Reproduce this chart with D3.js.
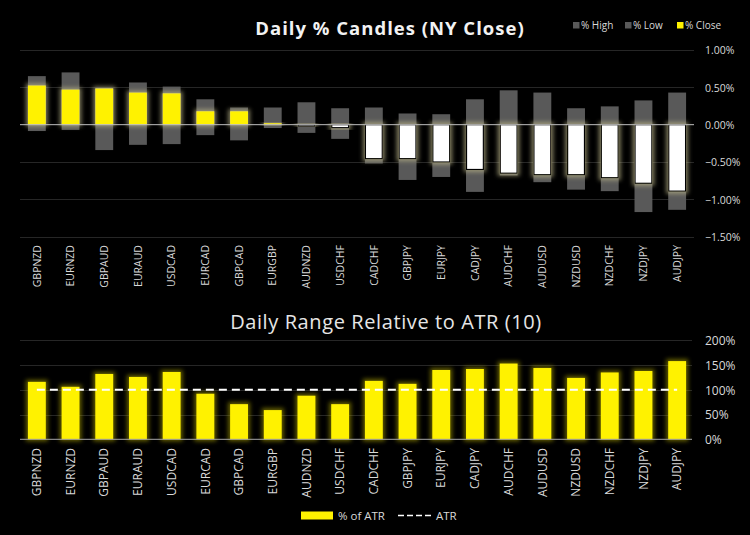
<!DOCTYPE html>
<html><head><meta charset="utf-8">
<script src="https://cdn.jsdelivr.net/npm/d3@7"></script>
<style>body{margin:0;background:#000;}svg{display:block;}</style>
</head><body>
<svg id="c" width="750" height="535"></svg>
<script>
const pairs = ["GBPNZD","EURNZD","GBPAUD","EURAUD","USDCAD","EURCAD","GBPCAD","EURGBP","AUDNZD","USDCHF","CADCHF","GBPJPY","EURJPY","CADJPY","AUDCHF","AUDUSD","NZDUSD","NZDCHF","NZDJPY","AUDJPY"];
const pctHigh  = [0.65,0.70,0.49,0.565,0.51,0.34,0.23,0.23,0.30,0.22,0.23,0.15,0.14,0.34,0.46,0.43,0.22,0.245,0.325,0.43];
const pctLow   = [-0.085,-0.07,-0.34,-0.27,-0.26,-0.14,-0.21,-0.045,-0.11,-0.19,-0.52,-0.74,-0.70,-0.90,-0.68,-0.77,-0.87,-0.89,-1.17,-1.14];
const pctClose = [0.525,0.47,0.485,0.43,0.42,0.18,0.18,0.02,-0.015,-0.04,-0.455,-0.455,-0.50,-0.60,-0.65,-0.67,-0.67,-0.71,-0.785,-0.89];
const atrPct   = [116,106,132,126,136,92,71,59,88,71,118,112,140,142,153,144,124,135,138,158];
const topTicks = [1.0,0.5,0,-0.5,-1.0,-1.5];
const botTicks = [200,150,100,50,0];

const svg = d3.select("#c");
const FONT = "'Open Sans', sans-serif";
const YEL = "#fff200", GREY = "#595959", TXT = "#d9d9d9", GRID = "#262626";

const defs = svg.append("defs");
function glow(id, color, r, sd, op){
  const f = defs.append("filter").attr("id", id).attr("x","-50%").attr("y","-50%").attr("width","200%").attr("height","200%");
  f.append("feMorphology").attr("in","SourceAlpha").attr("operator","dilate").attr("radius", r).attr("result","d");
  f.append("feGaussianBlur").attr("in","d").attr("stdDeviation", sd).attr("result","b");
  f.append("feFlood").attr("flood-color", color).attr("flood-opacity", op);
  f.append("feComposite").attr("in2","b").attr("operator","in").attr("result","g");
  const m = f.append("feMerge");
  m.append("feMergeNode").attr("in","g");
  m.append("feMergeNode").attr("in","SourceGraphic");
}
glow("gTop", "#bdb78a", 1.5, 2, 0.65);
glow("gBot", "#a89e00", 1.5, 2.2, 0.6);

const x = d3.scaleBand().domain(pairs).range([20, 694]).paddingInner(0.47).paddingOuter(0.235);

// ---------- TOP CHART ----------
const yT = d3.scaleLinear().domain([-1.5, 1.0]).range([236.7, 50]);
const gT = svg.append("g");
gT.selectAll("line.grid").data(topTicks.filter(d=>d!==0)).join("line")
  .attr("x1",20).attr("x2",694).attr("y1",d=>Math.round(yT(d))+0.5).attr("y2",d=>Math.round(yT(d))+0.5)
  .attr("stroke",GRID).attr("stroke-width",1);
const yAxT = d3.axisRight(yT).tickValues(topTicks).tickSize(0).tickPadding(0)
  .tickFormat(d=>d3.format(".2f")(d)+"%");
gT.append("g").attr("transform","translate(705,0)").call(yAxT)
  .call(g=>g.select(".domain").remove())
  .selectAll("text").attr("fill",TXT).attr("font-family",FONT).attr("font-size",10.5).attr("dy","0.35em");

// high & low bars
gT.selectAll("rect.hi").data(pairs).join("rect")
  .attr("x",d=>x(d)).attr("width",x.bandwidth())
  .attr("y",(d,i)=>yT(pctHigh[i])).attr("height",(d,i)=>yT(0)-yT(pctHigh[i]))
  .attr("fill",GREY);
gT.selectAll("rect.lo").data(pairs).join("rect")
  .attr("x",d=>x(d)).attr("width",x.bandwidth())
  .attr("y",yT(0)).attr("height",(d,i)=>yT(pctLow[i])-yT(0))
  .attr("fill",GREY);
// close bars
gT.selectAll("rect.cl").data(pairs).join("rect")
  .attr("filter","url(#gTop)")
  .attr("x",(d,i)=>pctClose[i]>=0 ? x(d) : x(d)+0.5)
  .attr("width",(d,i)=>pctClose[i]>=0 ? x.bandwidth() : x.bandwidth()-1)
  .attr("y",(d,i)=>pctClose[i]>=0 ? yT(pctClose[i]) : yT(0))
  .attr("height",(d,i)=>Math.max(1.5, Math.abs(yT(pctClose[i])-yT(0))))
  .attr("fill",(d,i)=>pctClose[i]>=0 ? YEL : "#ffffff")
  .attr("stroke",(d,i)=>pctClose[i]>=0 ? "none" : "#000")
  .attr("stroke-width",1.2);
// zero line
gT.append("line").attr("x1",20).attr("x2",694).attr("y1",yT(0)).attr("y2",yT(0))
  .attr("stroke","#bfbfbf").attr("stroke-width",1);

// x labels top
const xAxT = d3.axisBottom(x).tickSize(0).tickPadding(0);
gT.append("g").attr("transform","translate(0,245)").call(xAxT)
  .call(g=>g.select(".domain").remove())
  .selectAll("text").attr("fill",TXT).attr("font-family",FONT).attr("font-size",10.5)
  .attr("transform","rotate(-90)").attr("text-anchor","end").attr("x",0).attr("y",0).attr("dy","0.35em");

// title
svg.append("text").attr("x",390).attr("y",35).attr("text-anchor","middle")
  .attr("fill","#f2f2f2").attr("font-family",FONT).attr("font-weight","bold").attr("font-size",18.5)
  .attr("letter-spacing","1px").text("Daily % Candles (NY Close)");

// top legend
const legT = [{t:"% High",c:GREY,x:573},{t:"% Low",c:GREY,x:625},{t:"% Close",c:YEL,x:677}];
const lg = svg.append("g").selectAll("g").data(legT).join("g");
lg.append("rect").attr("x",d=>d.x).attr("y",22).attr("width",6.5).attr("height",6.5).attr("fill",d=>d.c);
lg.append("text").attr("x",d=>d.x+8).attr("y",25.3).attr("dy","0.35em").attr("fill",TXT)
  .attr("font-family",FONT).attr("font-size",10).text(d=>d.t);

// ---------- BOTTOM CHART ----------
const yB = d3.scaleLinear().domain([0,200]).range([439.3, 340.3]);
const gB = svg.append("g");
gB.selectAll("line.grid").data(botTicks.filter(d=>d!==0)).join("line")
  .attr("x1",20).attr("x2",692).attr("y1",d=>Math.round(yB(d))+0.5).attr("y2",d=>Math.round(yB(d))+0.5)
  .attr("stroke",GRID).attr("stroke-width",1);
const yAxB = d3.axisRight(yB).tickValues(botTicks).tickSize(0).tickPadding(0).tickFormat(d=>d+"%");
gB.append("g").attr("transform","translate(705,0)").call(yAxB)
  .call(g=>g.select(".domain").remove())
  .selectAll("text").attr("fill",TXT).attr("font-family",FONT).attr("font-size",12).attr("dy","0.35em");

gB.selectAll("rect.atr").data(pairs).join("rect")
  .attr("filter","url(#gBot)")
  .attr("x",d=>x(d)).attr("width",x.bandwidth())
  .attr("y",(d,i)=>yB(atrPct[i])).attr("height",(d,i)=>yB(0)-yB(atrPct[i]))
  .attr("fill",YEL);
gB.append("line").attr("x1",20).attr("x2",692).attr("y1",yB(0)).attr("y2",yB(0))
  .attr("stroke","#a6a6a6").attr("stroke-width",1);
const line = d3.line().x(d=>x(d)+x.bandwidth()/2).y(()=>yB(100));
gB.append("path").datum(pairs).attr("d",line).attr("fill","none")
  .attr("stroke","#ffffff").attr("stroke-width",2).attr("stroke-dasharray","8,5");

const xAxB = d3.axisBottom(x).tickSize(0).tickPadding(0);
gB.append("g").attr("transform","translate(0,448)").call(xAxB)
  .call(g=>g.select(".domain").remove())
  .selectAll("text").attr("fill",TXT).attr("font-family",FONT).attr("font-size",12)
  .attr("transform","rotate(-90)").attr("text-anchor","end").attr("x",0).attr("y",0).attr("dy","0.35em");

svg.append("text").attr("x",386).attr("y",329).attr("text-anchor","middle")
  .attr("fill","#e6e6e6").attr("font-family",FONT).attr("font-size",20)
  .attr("letter-spacing","0.6px").text("Daily Range Relative to ATR (10)");

// bottom legend
svg.append("rect").attr("x",301).attr("y",511.5).attr("width",32).attr("height",8).attr("fill",YEL);
svg.append("text").attr("x",338).attr("y",515.5).attr("dy","0.35em").attr("fill",TXT)
  .attr("font-family",FONT).attr("font-size",11.5).text("% of ATR");
svg.append("line").attr("x1",398).attr("x2",432).attr("y1",515.5).attr("y2",515.5)
  .attr("stroke","#fff").attr("stroke-width",1.5).attr("stroke-dasharray","6,3");
svg.append("text").attr("x",436).attr("y",515.5).attr("dy","0.35em").attr("fill",TXT)
  .attr("font-family",FONT).attr("font-size",11.5).text("ATR");
</script>
</body></html>
